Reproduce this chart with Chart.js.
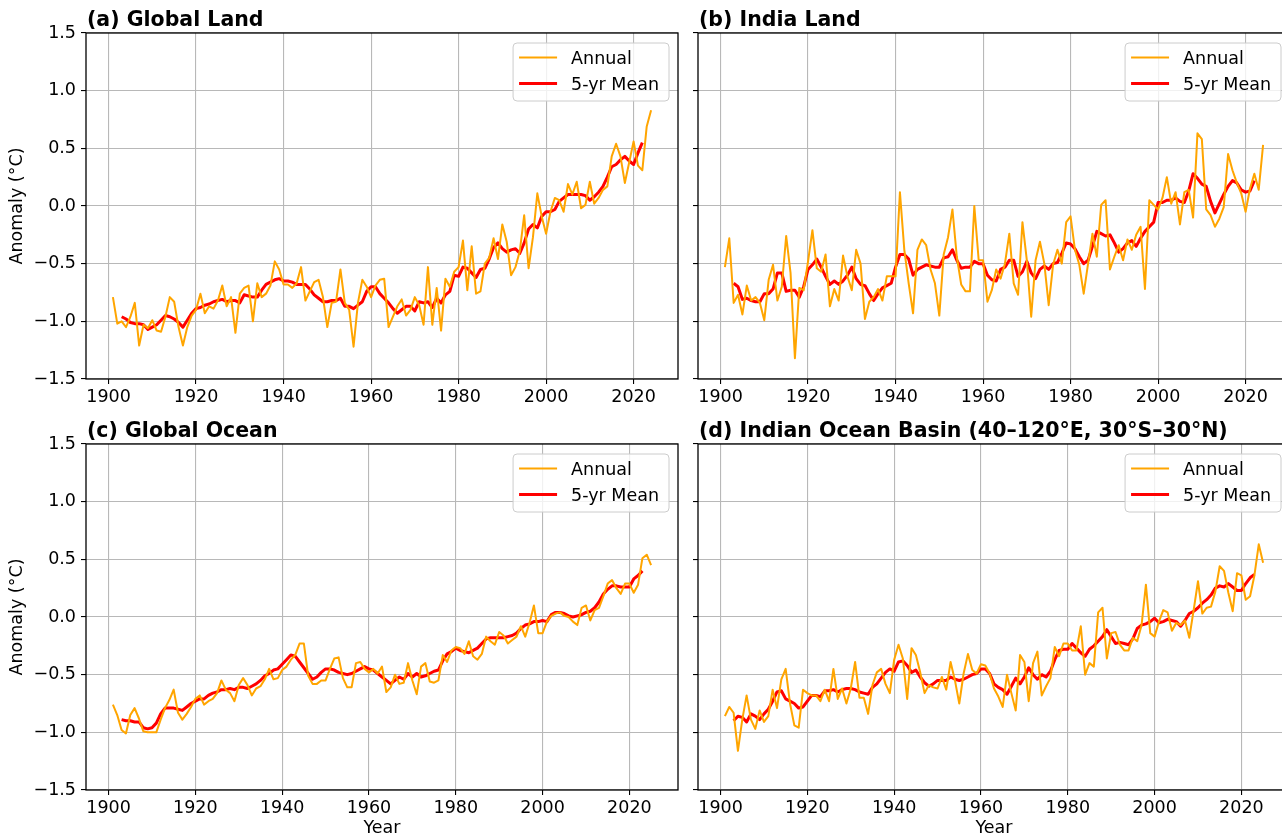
<!DOCTYPE html>
<html>
<head>
<meta charset="utf-8">
<script src="https://cdn.jsdelivr.net/npm/chart.js@4.4.1/dist/chart.umd.min.js"></script>
<style>
  html, body { margin: 0; padding: 0; background: #fff; overflow: hidden; }
  body { width: 1282px; height: 838px; position: relative; }
  canvas { position: absolute; }
</style>
</head>
<body>
<canvas id="chartA" width="690" height="418" style="left:0;top:0"></canvas>
<canvas id="chartB" width="610" height="418" style="left:690px;top:0"></canvas>
<canvas id="chartC" width="690" height="420" style="left:0;top:418px"></canvas>
<canvas id="chartD" width="610" height="420" style="left:690px;top:418px"></canvas>
<script>
// first year of each series (annual runs to 2024 on top row, 2025 on bottom row)
const annualStart = 1901;
const meanStart = 1903;

const xTicks = [1900, 1920, 1940, 1960, 1980, 2000, 2020];
const yTicks = [-1.5, -1.0, -0.5, 0.0, 0.5, 1.0, 1.5];

const titles = [
  "(a) Global Land",
  "(b) India Land",
  "(c) Global Ocean",
  "(d) Indian Ocean Basin (40\u2013120\u00b0E, 30\u00b0S\u201330\u00b0N)"
];

// anomalies in °C
const globalLandAnnual = [
  -0.79, -1.02, -1.00, -1.05, -0.96, -0.84, -1.21, -1.03, -1.06, -0.99,
  -1.08, -1.09, -0.96, -0.79, -0.83, -1.05, -1.21, -1.05, -0.95, -0.90,
  -0.76, -0.93, -0.87, -0.89, -0.82, -0.69, -0.87, -0.79, -1.10, -0.76,
  -0.71, -0.69, -1.00, -0.67, -0.79, -0.76, -0.69, -0.48, -0.55, -0.68,
  -0.68, -0.71, -0.67, -0.53, -0.82, -0.74, -0.66, -0.64, -0.79, -1.05,
  -0.84, -0.83, -0.55, -0.84, -0.90, -1.22, -0.84, -0.64, -0.70, -0.79,
  -0.69, -0.64, -0.63, -1.05, -0.96, -0.87, -0.81, -0.95, -0.90, -0.79,
  -0.86, -1.03, -0.53, -1.03, -0.71, -1.08, -0.63, -0.70, -0.57, -0.53,
  -0.30, -0.73, -0.35, -0.76, -0.74, -0.50, -0.45, -0.28, -0.46, -0.16,
  -0.31, -0.60, -0.53, -0.39, -0.08, -0.54, -0.27, 0.11, -0.09, -0.24,
  -0.05, 0.07, 0.05, -0.05, 0.19, 0.10, 0.21, -0.02, 0.01, 0.21,
  0.02, 0.07, 0.14, 0.17, 0.43, 0.54, 0.43, 0.20, 0.38, 0.56,
  0.35, 0.31, 0.69, 0.83
];
const globalLandMean = [
  -0.96, -0.98, -1.01, -1.02, -1.02, -1.03, -1.07, -1.05, -1.03, -0.99,
  -0.95, -0.96, -0.98, -1.01, -1.05, -0.99, -0.93, -0.89, -0.88, -0.86,
  -0.85, -0.83, -0.82, -0.81, -0.83, -0.82, -0.82, -0.84, -0.77, -0.78,
  -0.79, -0.79, -0.73, -0.68, -0.66, -0.64, -0.63, -0.65, -0.65, -0.66,
  -0.68, -0.68, -0.68, -0.72, -0.77, -0.80, -0.83, -0.83, -0.82, -0.82,
  -0.80, -0.87, -0.87, -0.89, -0.86, -0.83, -0.74, -0.70, -0.70, -0.76,
  -0.80, -0.84, -0.89, -0.93, -0.90, -0.87, -0.87, -0.91, -0.83, -0.84,
  -0.83, -0.88, -0.80, -0.84, -0.77, -0.74, -0.60, -0.61, -0.53, -0.54,
  -0.58, -0.62, -0.55, -0.54, -0.46, -0.36, -0.32, -0.37, -0.40, -0.38,
  -0.37, -0.41, -0.32, -0.20, -0.16, -0.19, -0.09, -0.05, -0.05, -0.03,
  0.04, 0.07, 0.10, 0.10, 0.10, 0.10, 0.09, 0.05, 0.08, 0.12,
  0.17, 0.25, 0.34, 0.36, 0.40, 0.43, 0.39, 0.36, 0.46, 0.55
];

const indiaLandAnnual = [
  -0.53, -0.28, -0.84, -0.77, -0.94, -0.69, -0.82, -0.79, -0.84, -0.99,
  -0.64, -0.51, -0.82, -0.70, -0.26, -0.58, -1.32, -0.71, -0.73, -0.48,
  -0.21, -0.54, -0.57, -0.42, -0.87, -0.72, -0.82, -0.43, -0.61, -0.73,
  -0.38, -0.50, -0.98, -0.83, -0.79, -0.72, -0.82, -0.61, -0.61, -0.61,
  0.12, -0.38, -0.67, -0.93, -0.38, -0.29, -0.34, -0.55, -0.67, -0.95,
  -0.42, -0.27, -0.03, -0.44, -0.68, -0.74, -0.74, 0.00, -0.47, -0.47,
  -0.83, -0.73, -0.55, -0.63, -0.50, -0.24, -0.67, -0.77, -0.14, -0.47,
  -0.96, -0.47, -0.31, -0.50, -0.86, -0.51, -0.38, -0.50, -0.14, -0.09,
  -0.38, -0.51, -0.76, -0.50, -0.24, -0.44, 0.01, 0.05, -0.55, -0.44,
  -0.34, -0.47, -0.29, -0.38, -0.25, -0.18, -0.72, 0.05, 0.01, -0.03,
  0.07, 0.25, 0.02, 0.12, -0.16, 0.12, 0.14, -0.10, 0.63, 0.58,
  -0.03, -0.08, -0.18, -0.11, -0.01, 0.45, 0.31, 0.20, 0.11, -0.05,
  0.15, 0.28, 0.14, 0.53
];
const indiaLandMean = [
  -0.67, -0.70, -0.81, -0.80, -0.82, -0.83, -0.83, -0.76, -0.76, -0.72,
  -0.58, -0.58, -0.74, -0.73, -0.73, -0.79, -0.70, -0.55, -0.51, -0.46,
  -0.53, -0.61, -0.68, -0.65, -0.68, -0.65, -0.60, -0.53, -0.63, -0.68,
  -0.69, -0.76, -0.82, -0.76, -0.71, -0.69, -0.67, -0.53, -0.42, -0.42,
  -0.46, -0.60, -0.55, -0.53, -0.51, -0.52, -0.53, -0.53, -0.45, -0.44,
  -0.38, -0.47, -0.54, -0.53, -0.53, -0.48, -0.50, -0.50, -0.60, -0.64,
  -0.65, -0.55, -0.53, -0.47, -0.47, -0.61, -0.57, -0.48, -0.58, -0.63,
  -0.55, -0.52, -0.55, -0.50, -0.49, -0.41, -0.32, -0.33, -0.37, -0.44,
  -0.50, -0.47, -0.35, -0.22, -0.24, -0.26, -0.25, -0.32, -0.40, -0.37,
  -0.32, -0.30, -0.35, -0.28, -0.22, -0.18, -0.14, 0.03, 0.03, 0.05,
  0.05, 0.07, 0.04, 0.03, 0.13, 0.28, 0.24, 0.19, 0.17, 0.04,
  -0.06, 0.02, 0.10, 0.17, 0.22, 0.20, 0.14, 0.12, 0.13, 0.22
];

const globalOceanAnnual = [
  -0.76, -0.85, -0.98, -1.01, -0.85, -0.79, -0.88, -0.99, -1.00, -1.00,
  -1.00, -0.89, -0.79, -0.72, -0.63, -0.83, -0.89, -0.84, -0.78, -0.71,
  -0.68, -0.76, -0.73, -0.71, -0.66, -0.55, -0.63, -0.66, -0.73, -0.59,
  -0.53, -0.59, -0.68, -0.62, -0.60, -0.54, -0.45, -0.54, -0.53, -0.46,
  -0.43, -0.37, -0.33, -0.23, -0.23, -0.51, -0.58, -0.58, -0.55, -0.55,
  -0.45, -0.36, -0.35, -0.53, -0.61, -0.61, -0.40, -0.39, -0.45, -0.48,
  -0.45, -0.49, -0.43, -0.65, -0.61, -0.50, -0.58, -0.57, -0.40, -0.55,
  -0.67, -0.43, -0.40, -0.56, -0.57, -0.55, -0.33, -0.39, -0.29, -0.26,
  -0.27, -0.32, -0.21, -0.34, -0.37, -0.32, -0.17, -0.21, -0.24, -0.13,
  -0.16, -0.23, -0.20, -0.17, -0.08, -0.17, -0.05, 0.10, -0.14, -0.14,
  -0.04, 0.01, 0.03, 0.04, 0.01, 0.00, -0.04, -0.07, 0.08, 0.10,
  -0.03, 0.06, 0.08, 0.18, 0.29, 0.32, 0.25, 0.20, 0.29, 0.29,
  0.21, 0.28, 0.51, 0.54, 0.45
];
const globalOceanMean = [
  -0.89, -0.90, -0.90, -0.91, -0.91, -0.96, -0.97, -0.96, -0.92, -0.84,
  -0.79, -0.79, -0.79, -0.80, -0.81, -0.78, -0.75, -0.73, -0.71, -0.71,
  -0.68, -0.66, -0.65, -0.63, -0.63, -0.62, -0.63, -0.61, -0.61, -0.62,
  -0.60, -0.58, -0.55, -0.51, -0.49, -0.46, -0.45, -0.41, -0.37, -0.33,
  -0.34, -0.39, -0.44, -0.49, -0.54, -0.52, -0.48, -0.45, -0.45, -0.46,
  -0.48, -0.49, -0.50, -0.49, -0.47, -0.45, -0.43, -0.45, -0.46, -0.49,
  -0.52, -0.55, -0.58, -0.55, -0.52, -0.54, -0.49, -0.52, -0.49, -0.52,
  -0.51, -0.49, -0.47, -0.46, -0.38, -0.32, -0.30, -0.27, -0.29, -0.30,
  -0.31, -0.29, -0.27, -0.23, -0.19, -0.18, -0.18, -0.18, -0.18, -0.17,
  -0.16, -0.14, -0.10, -0.07, -0.06, -0.04, -0.04, -0.03, -0.04, 0.02,
  0.04, 0.04, 0.03, 0.01, 0.00, 0.01, 0.02, 0.04, 0.05, 0.08,
  0.13, 0.20, 0.24, 0.27, 0.27, 0.26, 0.26, 0.26, 0.33, 0.36,
  0.40
];

const indianOceanAnnual = [
  -0.86, -0.78, -0.83, -1.16, -0.89, -0.68, -0.89, -0.97, -0.81, -0.91,
  -0.86, -0.63, -0.79, -0.54, -0.45, -0.75, -0.94, -0.96, -0.63, -0.66,
  -0.68, -0.68, -0.73, -0.63, -0.73, -0.45, -0.71, -0.62, -0.75, -0.62,
  -0.39, -0.70, -0.70, -0.84, -0.59, -0.48, -0.45, -0.58, -0.66, -0.37,
  -0.24, -0.36, -0.71, -0.27, -0.33, -0.48, -0.66, -0.59, -0.61, -0.62,
  -0.52, -0.63, -0.39, -0.55, -0.75, -0.49, -0.32, -0.46, -0.49, -0.41,
  -0.42, -0.49, -0.62, -0.69, -0.78, -0.50, -0.66, -0.81, -0.33, -0.39,
  -0.73, -0.40, -0.30, -0.68, -0.60, -0.53, -0.26, -0.34, -0.23, -0.23,
  -0.29, -0.29, -0.08, -0.50, -0.40, -0.43, 0.04, 0.08, -0.36, -0.14,
  -0.13, -0.24, -0.29, -0.29, -0.18, -0.21, -0.07, 0.28, -0.14, -0.17,
  -0.04, 0.06, 0.04, -0.12, -0.05, -0.07, -0.03, -0.18, 0.06, 0.31,
  0.03, 0.08, 0.09, 0.22, 0.44, 0.40, 0.21, 0.05, 0.38, 0.36,
  0.15, 0.18, 0.36, 0.63, 0.47
];
const indianOceanMean = [
  -0.90, -0.86, -0.87, -0.91, -0.84, -0.86, -0.89, -0.84, -0.80, -0.73,
  -0.65, -0.64, -0.71, -0.73, -0.75, -0.79, -0.78, -0.73, -0.68, -0.68,
  -0.69, -0.64, -0.64, -0.63, -0.65, -0.63, -0.62, -0.62, -0.63, -0.65,
  -0.66, -0.67, -0.61, -0.58, -0.53, -0.48, -0.45, -0.47, -0.39, -0.38,
  -0.42, -0.48, -0.46, -0.52, -0.57, -0.60, -0.58, -0.55, -0.55, -0.55,
  -0.52, -0.54, -0.55, -0.54, -0.52, -0.50, -0.49, -0.45, -0.45, -0.49,
  -0.58, -0.61, -0.63, -0.67, -0.60, -0.53, -0.58, -0.52, -0.44, -0.50,
  -0.54, -0.50, -0.52, -0.47, -0.37, -0.29, -0.28, -0.28, -0.23, -0.27,
  -0.31, -0.34, -0.28, -0.25, -0.21, -0.17, -0.11, -0.17, -0.23, -0.22,
  -0.23, -0.24, -0.19, -0.10, -0.07, -0.06, -0.04, -0.01, -0.05, -0.04,
  -0.02, -0.03, -0.04, -0.08, -0.03, 0.03, 0.05, 0.08, 0.12, 0.15,
  0.19, 0.25, 0.27, 0.26, 0.29, 0.26, 0.23, 0.23, 0.29, 0.34,
  0.37
];

Chart.defaults.font.family = '"DejaVu Sans", sans-serif';
Chart.defaults.font.size = 17.5;
Chart.defaults.color = "#000";

function toPoints(values, start) {
  return values.map((v, i) => ({ x: start + i, y: v }));
}

// spines, panel title and matplotlib-like legend box
const panelFrame = {
  id: "panelFrame",
  afterDraw(chart, args, opts) {
    const { ctx, chartArea: a } = chart;
    ctx.save();
    ctx.strokeStyle = "#000";
    ctx.lineWidth = 1.3;
    ctx.strokeRect(a.left, a.top, a.right - a.left, a.bottom - a.top);

    ctx.fillStyle = "#000";
    ctx.textAlign = "left";
    ctx.textBaseline = "alphabetic";
    ctx.font = 'bold 20.5px "DejaVu Sans"';
    ctx.fillText(opts.title, a.left + 1, a.top - 7);

    ctx.font = '17.5px "DejaVu Sans"';
    const sets = chart.data.datasets;
    const textW = Math.max(...sets.map((d) => ctx.measureText(d.label).width));
    const w = 58 + textW + 10, h = 58;
    const x0 = a.right - 9 - w, y0 = a.top + 10;
    ctx.beginPath();
    ctx.roundRect(x0, y0, w, h, 4);
    ctx.fillStyle = "rgba(255,255,255,0.8)";
    ctx.fill();
    ctx.strokeStyle = "#cccccc";
    ctx.lineWidth = 1;
    ctx.stroke();
    sets.forEach((d, i) => {
      const y = y0 + 14.5 + i * 26;
      ctx.beginPath();
      ctx.moveTo(x0 + 6, y);
      ctx.lineTo(x0 + 44, y);
      ctx.strokeStyle = d.borderColor;
      ctx.lineWidth = d.borderWidth;
      ctx.stroke();
      ctx.fillStyle = "#000";
      ctx.fillText(d.label, x0 + 58, y + 6.4);
    });
    ctx.restore();
  }
};

function makeChart(id, p) {
  const first = p.leftCol;
  return new Chart(document.getElementById(id), {
    type: "line",
    data: {
      datasets: [
        { label: "Annual", data: toPoints(p.annual, annualStart), borderColor: "#FFA500", borderWidth: 2,
          pointRadius: 0, borderJoinStyle: "round" },
        { label: "5-yr Mean", data: toPoints(p.mean, meanStart), borderColor: "#FF0000", borderWidth: 3,
          pointRadius: 0, borderJoinStyle: "round" }
      ]
    },
    options: {
      responsive: false,
      animation: false,
      events: [],
      layout: { padding: { top: p.top, right: first ? 12 : 10, left: 0, bottom: 0 } },
      scales: {
        x: {
          type: "linear",
          min: p.xMin,
          max: p.xMax,
          afterBuildTicks: (s) => { s.ticks = xTicks.map((v) => ({ value: v })); },
          afterFit: (s) => { s.height = p.xHeight; },
          ticks: { padding: 3, maxRotation: 0, callback: (v) => String(v) },
          grid: { color: "#b8b8b8", lineWidth: 1.1, tickLength: 5, tickColor: "#000", tickWidth: 1.1 },
          border: { display: false },
          title: { display: p.bottomRow, text: "Year", padding: { top: 0, bottom: -1 } }
        },
        y: {
          min: -1.5,
          max: 1.5,
          afterBuildTicks: (s) => { s.ticks = yTicks.map((v) => ({ value: v })); },
          afterFit: (s) => { s.width = first ? 86 : 8; },
          ticks: {
            display: first,
            padding: 5,
            callback: (v) => (v < 0 ? "\u2212" : "") + Math.abs(v).toFixed(1)
          },
          grid: { color: "#b8b8b8", lineWidth: 1.1, tickLength: 5, tickColor: "#000", tickWidth: 1.1 },
          border: { display: false },
          title: { display: first, text: "Anomaly (\u00b0C)", padding: { top: 7, bottom: 0 } }
        }
      },
      plugins: {
        legend: { display: false },
        tooltip: { enabled: false },
        panelFrame: { title: p.title }
      }
    },
    plugins: [panelFrame]
  });
}

makeChart("chartA", { title: titles[0], annual: globalLandAnnual, mean: globalLandMean, leftCol: true,
  bottomRow: false, top: 33, xHeight: 39, xMin: 1894.85, xMax: 2030.15 });
makeChart("chartB", { title: titles[1], annual: indiaLandAnnual, mean: indiaLandMean, leftCol: false,
  bottomRow: false, top: 33, xHeight: 39, xMin: 1894.85, xMax: 2030.15 });
makeChart("chartC", { title: titles[2], annual: globalOceanAnnual, mean: globalOceanMean, leftCol: true,
  bottomRow: true, top: 26, xHeight: 48, xMin: 1894.8, xMax: 2031.2 });
makeChart("chartD", { title: titles[3], annual: indianOceanAnnual, mean: indianOceanMean, leftCol: false,
  bottomRow: true, top: 26, xHeight: 48, xMin: 1894.8, xMax: 2031.2 });
</script>
</body>
</html>
